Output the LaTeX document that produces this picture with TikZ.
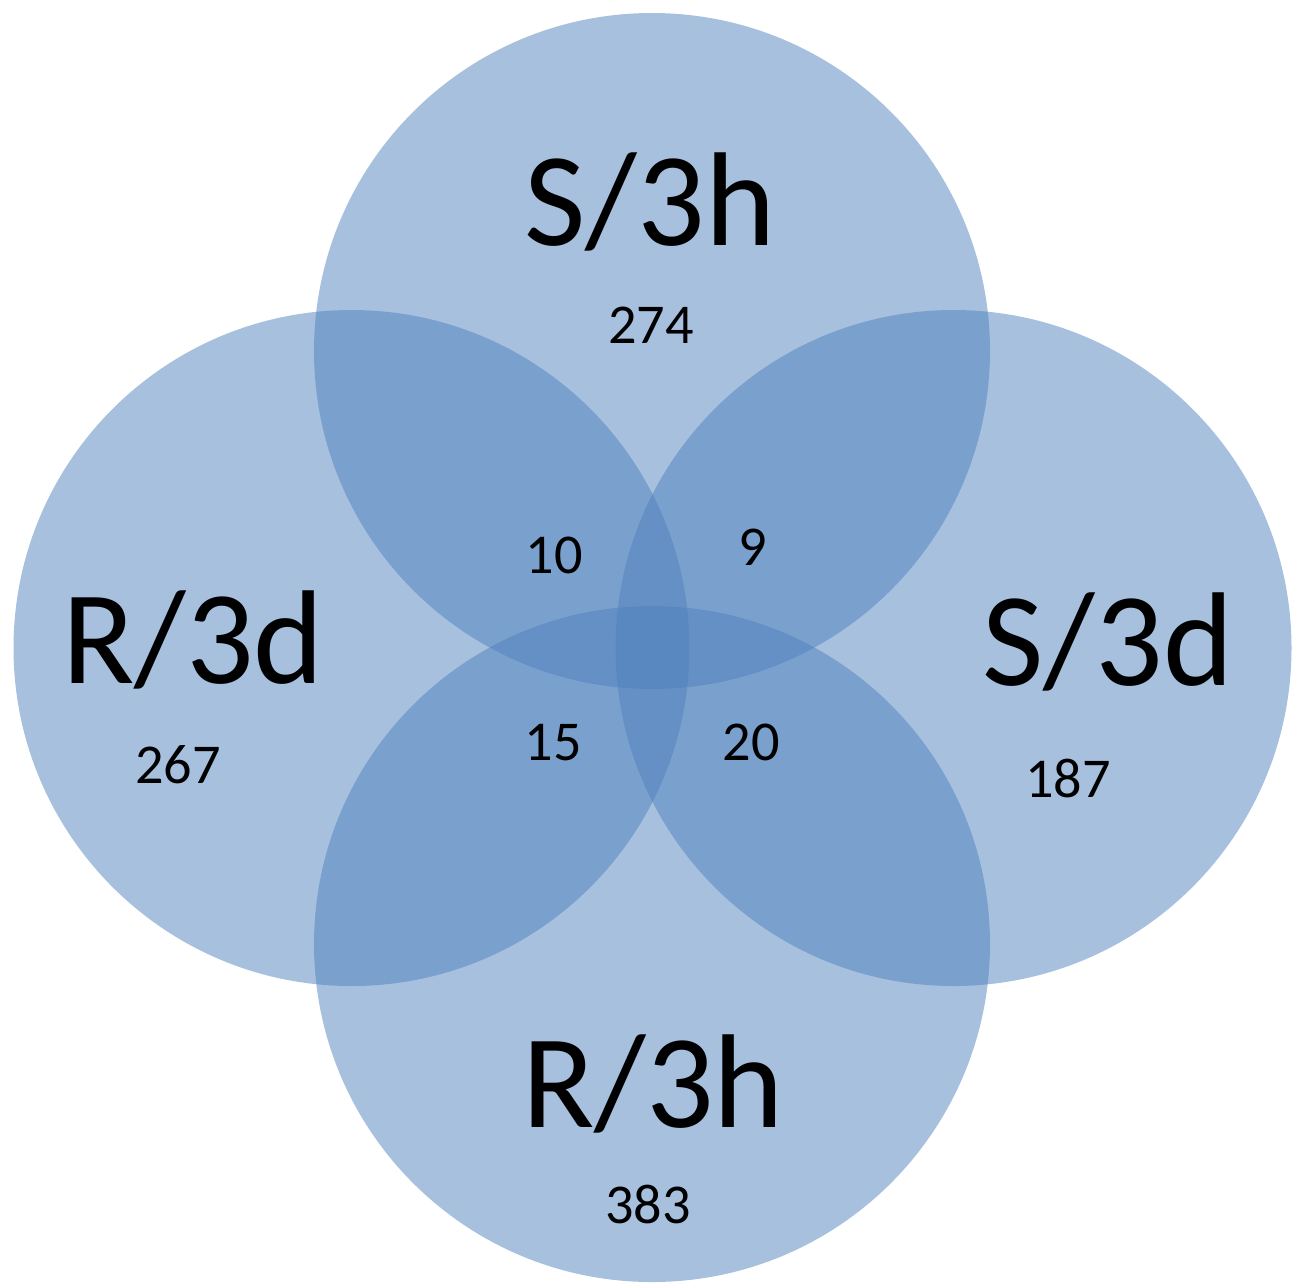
\documentclass[tikz,border=0pt]{standalone}
\usepackage{fontspec}
\setmainfont{Carlito}
\begin{document}
\begin{tikzpicture}
 \definecolor{vennblue}{HTML}{4F81BD}
 \tikzset{
  venn/.style={fill=vennblue,fill opacity=0.5},
  setname/.style={anchor=base,inner sep=0pt,font=\fontsize{38}{40}\selectfont},
  count/.style={anchor=base,inner sep=0pt,font=\fontsize{16}{18}\selectfont}
 }
 \useasboundingbox (0,0) rectangle (12.99,-12.86);
 \coordinate (s3h) at (6.52,-3.51);
 \coordinate (r3d) at (3.515,-6.48);
 \coordinate (s3d) at (9.535,-6.48);
 \coordinate (r3h) at (6.52,-9.44);
 \fill [venn] (s3h) circle (3.38);
 \fill [venn] (r3d) circle (3.38);
 \fill [venn] (s3d) circle (3.38);
 \fill [venn] (r3h) circle (3.38);
 \node [setname] (s3hname) at (6.50,-2.45) {S/3h};
 \node [count] (s3hcount) at (6.51,-3.43) {274};
 \node [setname] (r3dname) at (1.93,-6.83) {R/3d};
 \node [count] (r3dcount) at (1.78,-7.83) {267};
 \node [setname] (s3dname) at (11.08,-6.85) {S/3d};
 \node [count] (s3dcount) at (10.68,-7.97) {187};
 \node [setname] (r3hname) at (6.53,-11.27) {R/3h};
 \node [count] (r3hcount) at (6.48,-12.23) {383};
 \node [count] (topleft) at (5.54,-5.73) {10};
 \node [count] (topright) at (7.53,-5.65) {9};
 \node [count] (bottomleft) at (5.53,-7.60) {15};
 \node [count] (bottomright) at (7.51,-7.60) {20};
\end{tikzpicture}
\end{document}
